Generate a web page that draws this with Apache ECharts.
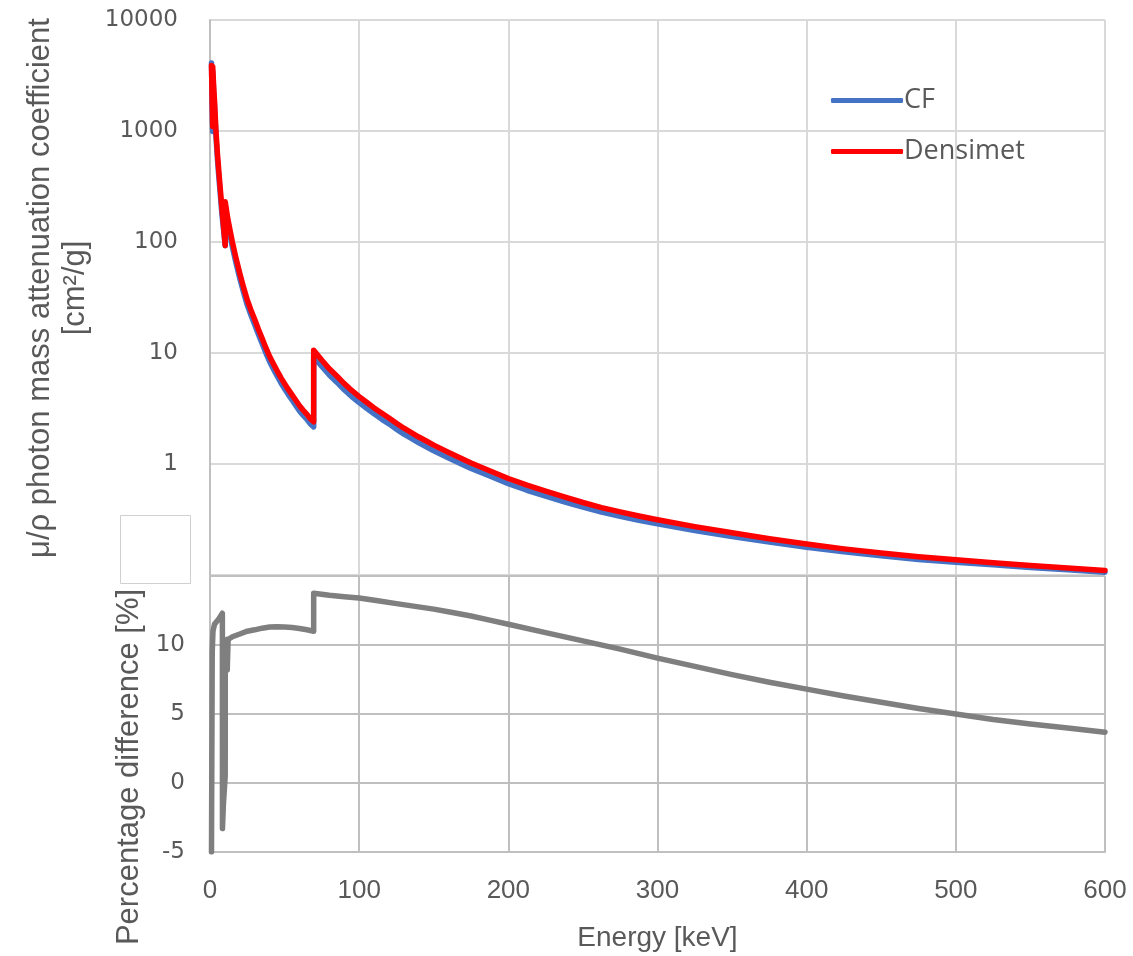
<!DOCTYPE html>
<html>
<head>
<meta charset="utf-8">
<script src="https://cdn.jsdelivr.net/npm/echarts@6/dist/echarts.min.js"></script>
<style>
html,body{margin:0;padding:0;background:#fff;}
#chart{width:1133px;height:956px;}
</style>
</head>
<body>
<div id="chart"></div>
<script>
// Energies (keV) for the attenuation curves
const energy = [1, 1.5, 1.8, 1.81, 2.3, 2.6, 3, 4, 5, 6, 8, 10.2, 10.21, 12, 15, 17.5, 20, 22.5, 25, 27.5, 30, 32.5, 35, 37.5, 40, 42.5, 45, 47.5, 50, 52.5, 55, 57.5, 60, 62.5, 65, 67, 69.5, 69.51, 75, 80, 85, 90, 95, 100, 105, 110, 115, 120, 125, 130, 135, 140, 145, 150, 160, 175, 187.5, 200, 212.5, 225, 237.5, 250, 262.5, 275, 287.5, 300, 325, 350, 375, 400, 425, 450, 475, 500, 525, 550, 575, 600];
// Densimet mass attenuation coefficient [cm2/g]
const densimet = [3900, 1700, 1100, 3800, 2800, 2300, 1900, 1000, 620, 420, 200, 93, 230, 160, 100, 71, 52, 39, 30, 24.3, 20, 16.3, 13.5, 11.1, 9.3, 8.0, 6.9, 6.0, 5.3, 4.7, 4.2, 3.75, 3.35, 3.05, 2.8, 2.58, 2.4, 10.6, 8.6, 7.2, 6.2, 5.3, 4.6, 4.05, 3.6, 3.2, 2.88, 2.6, 2.33, 2.1, 1.92, 1.75, 1.61, 1.48, 1.27, 1.02, 0.87, 0.74, 0.645, 0.57, 0.505, 0.45, 0.405, 0.37, 0.34, 0.315, 0.273, 0.24, 0.212, 0.19, 0.172, 0.158, 0.146, 0.137, 0.129, 0.122, 0.1155, 0.11];
// CF mass attenuation coefficient [cm2/g]
const cf = [4105, 1553, 989, 3417, 2518, 2066, 1704, 896, 555, 375, 178, 92.5, 209, 145, 90.4, 64.2, 46.9, 35.2, 27.0, 21.9, 18.0, 14.67, 12.14, 9.98, 8.36, 7.19, 6.20, 5.39, 4.76, 4.22, 3.78, 3.37, 3.01, 2.74, 2.52, 2.32, 2.16, 9.32, 7.56, 6.34, 5.46, 4.67, 4.05, 3.57, 3.18, 2.83, 2.54, 2.30, 2.06, 1.86, 1.70, 1.55, 1.43, 1.314, 1.130, 0.910, 0.78, 0.664, 0.580, 0.514, 0.457, 0.408, 0.368, 0.337, 0.311, 0.289, 0.252, 0.2225, 0.198, 0.178, 0.162, 0.149, 0.138, 0.1305, 0.1235, 0.117, 0.1115, 0.106];
// Percentage difference curve
const diffEnergy = [1, 1.5, 2, 3, 4, 6, 8.3, 8.35, 9, 10.2, 10.25, 11.5, 11.55, 12.1, 12.15, 15, 20, 25, 30, 35, 40, 45, 50, 55, 60, 65, 69.5, 69.51, 80, 90, 100, 112.5, 125, 137.5, 150, 162.5, 175, 187.5, 200, 225, 250, 275, 300, 325, 350, 375, 400, 425, 450, 475, 500, 525, 550, 575, 600];
const diffValue = [-5.0, 9.5, 11.0, 11.5, 11.6, 11.9, 12.3, -3.3, -1.5, 0.5, 10.2, 10.4, 8.2, 8.3, 10.4, 10.6, 10.8, 11.0, 11.1, 11.22, 11.3, 11.32, 11.3, 11.27, 11.2, 11.1, 11.0, 13.75, 13.6, 13.5, 13.4, 13.2, 13.0, 12.8, 12.6, 12.35, 12.1, 11.8, 11.5, 10.9, 10.3, 9.7, 9.05, 8.45, 7.85, 7.3, 6.8, 6.3, 5.85, 5.4, 5.0, 4.6, 4.28, 3.98, 3.68];
const xTicks = [0, 100, 200, 300, 400, 500, 600];

const pair = (xs, ys) => xs.map((x, i) => [x, ys[i]]);
const chart = echarts.init(document.getElementById('chart'));
const narrow = "'Liberation Sans Narrow', 'Liberation Sans', sans-serif";
const tickFont = "'DejaVu Sans', Verdana, sans-serif";

chart.setOption({
  animation: false,
  backgroundColor: '#ffffff',
  grid: [
    {left: 210, width: 895, top: 20, height: 555},
    {left: 210, width: 895, top: 576, height: 276}
  ],
  xAxis: [
    {gridIndex: 0, type: 'value', min: 0, max: 600, interval: 100,
     axisLabel: {show: false}, axisTick: {show: false}, axisLine: {show: false},
     splitLine: {show: true, lineStyle: {color: '#d9d9d9', width: 2}}},
    {gridIndex: 1, type: 'value', min: 0, max: 600, interval: 100,
     axisLine: {show: true, onZero: false, lineStyle: {color: '#bfbfbf', width: 2}},
     axisTick: {show: false},
     axisLabel: {color: '#595959', fontSize: 26, fontFamily: narrow, margin: 26,
                 formatter: v => xTicks.includes(v) ? String(v) : ''},
     splitLine: {show: true, lineStyle: {color: '#bfbfbf', width: 2}},
     name: 'Energy [keV]', nameLocation: 'middle', nameGap: 72,
     nameTextStyle: {color: '#595959', fontSize: 28, fontFamily: narrow}}
  ],
  yAxis: [
    {gridIndex: 0, type: 'log', logBase: 10, min: 0.1, max: 10000,
     axisLine: {show: true, lineStyle: {color: '#bfbfbf', width: 2}},
     axisTick: {show: false},
     axisLabel: {color: '#595959', fontSize: 23, fontFamily: tickFont, margin: 32,
                 formatter: v => v < 0.5 ? '' : String(Math.round(v))},
     splitLine: {show: true, lineStyle: {color: '#d9d9d9', width: 2}},
     minorSplitLine: {show: false}},
    {gridIndex: 1, type: 'value', min: -5, max: 15, interval: 5,
     axisLine: {show: true, lineStyle: {color: '#bfbfbf', width: 2}},
     axisTick: {show: false},
     axisLabel: {color: '#595959', fontSize: 23, fontFamily: tickFont, margin: 25,
                 formatter: v => v >= 15 ? '' : String(v)},
     splitLine: {show: true, lineStyle: {color: '#bfbfbf', width: 2}}}
  ],
  legend: {
    orient: 'vertical', left: 826, top: 82, itemWidth: 72, itemHeight: 5, itemGap: 24,
    icon: 'roundRect',
    textStyle: {color: '#595959', fontSize: 27, fontFamily: "'Open Sans', sans-serif", padding: [0, 0, 0, -4]},
    data: ['CF', 'Densimet']
  },
  series: [
    {name: 'CF', type: 'line', xAxisIndex: 0, yAxisIndex: 0, data: pair(energy, cf),
     symbol: 'none', lineStyle: {color: '#4472C4', width: 5.5, cap: 'round', join: 'round'},
     itemStyle: {color: '#4472C4'}},
    {name: 'Densimet', type: 'line', xAxisIndex: 0, yAxisIndex: 0, data: pair(energy, densimet),
     symbol: 'none', lineStyle: {color: '#FF0000', width: 5.5, cap: 'round', join: 'round'},
     itemStyle: {color: '#FF0000'}},
    {name: 'Percentage difference', type: 'line', xAxisIndex: 1, yAxisIndex: 1, data: pair(diffEnergy, diffValue),
     symbol: 'none', lineStyle: {color: '#7F7F7F', width: 5.5, cap: 'round', join: 'round'},
     itemStyle: {color: '#7F7F7F'}}
  ],
  graphic: [
    {type: 'rect', shape: {x: 120.5, y: 515.5, width: 70, height: 68},
     style: {fill: '#ffffff', stroke: '#d0d0d0', lineWidth: 1}, z: 100},
    {type: 'text', x: 40, y: 288, rotation: Math.PI / 2,
     style: {text: 'μ/ρ photon mass attenuation coefficient', fill: '#595959', fontSize: 31,
             fontFamily: narrow, textAlign: 'center', textVerticalAlign: 'middle'}},
    {type: 'text', x: 75, y: 288, rotation: Math.PI / 2,
     style: {text: '[cm²/g]', fill: '#595959', fontSize: 31,
             fontFamily: narrow, textAlign: 'center', textVerticalAlign: 'middle'}},
    {type: 'text', x: 129, y: 767, rotation: Math.PI / 2,
     style: {text: 'Percentage difference [%]', fill: '#595959', fontSize: 31,
             fontFamily: narrow, textAlign: 'center', textVerticalAlign: 'middle'}}
  ]
});
</script>
</body>
</html>
